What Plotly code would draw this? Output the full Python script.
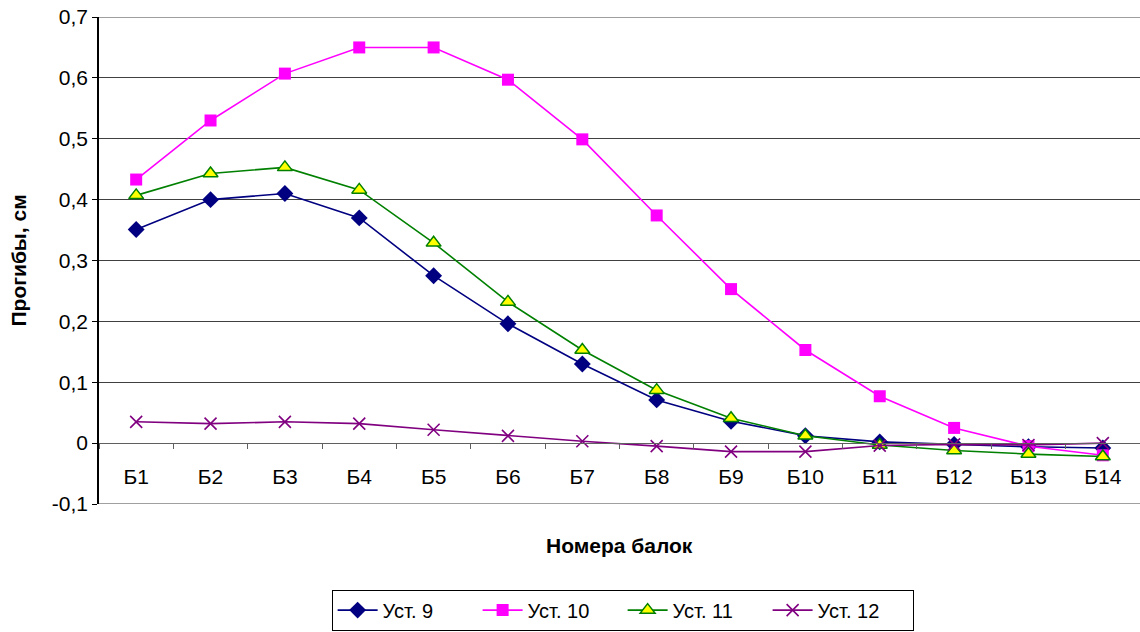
import plotly.graph_objects as go

categories = ["Б1", "Б2", "Б3", "Б4", "Б5", "Б6", "Б7", "Б8", "Б9", "Б10", "Б11", "Б12", "Б13", "Б14"]
ust9 = [0.351, 0.400, 0.410, 0.370, 0.275, 0.196, 0.130, 0.071, 0.036, 0.012, 0.002, -0.002, -0.006, -0.008]
ust10 = [0.433, 0.530, 0.607, 0.650, 0.650, 0.597, 0.499, 0.374, 0.253, 0.153, 0.077, 0.025, -0.005, -0.020]
ust11 = [0.407, 0.443, 0.453, 0.416, 0.329, 0.232, 0.153, 0.087, 0.041, 0.012, -0.003, -0.012, -0.018, -0.022]
ust12 = [0.035, 0.032, 0.035, 0.032, 0.022, 0.012, 0.003, -0.005, -0.014, -0.014, -0.004, -0.002, -0.003, 0.000]
series_names = ["Уст. 9", "Уст. 10", "Уст. 11", "Уст. 12"]
y_ticks = [-0.1, 0, 0.1, 0.2, 0.3, 0.4, 0.5, 0.6, 0.7]
y_tick_labels = ["-0,1", "0", "0,1", "0,2", "0,3", "0,4", "0,5", "0,6", "0,7"]
x_title = "Номера балок"
y_title = "Прогибы, см"

FONT = "Liberation Sans, Arial, sans-serif"
FS = 21

fig = go.Figure()
fig.add_trace(go.Scatter(x=categories, y=ust9, name=series_names[0], mode="lines+markers",
                         line=dict(color="#000080", width=1.6),
                         marker=dict(symbol="diamond", size=13, color="#000080")))
fig.add_trace(go.Scatter(x=categories, y=ust10, name=series_names[1], mode="lines+markers",
                         line=dict(color="#FF00FF", width=1.6),
                         marker=dict(symbol="square", size=12, color="#FF00FF")))
fig.add_trace(go.Scatter(x=categories, y=ust11, name=series_names[2], mode="lines+markers",
                         line=dict(color="#008000", width=1.6),
                         marker=dict(symbol="triangle-up", size=13, color="#FFFF00",
                                     line=dict(color="#008000", width=1.5))))
fig.add_trace(go.Scatter(x=categories, y=ust12, name=series_names[3], mode="lines+markers",
                         line=dict(color="#800080", width=1.6),
                         marker=dict(symbol="x-thin", size=12, color="#800080",
                                     line=dict(color="#800080", width=1.6))))

fig.update_layout(
    width=1140, height=632,
    margin=dict(l=99, r=0, t=17, b=128, autoexpand=False),
    plot_bgcolor="white", paper_bgcolor="white",
    font=dict(family=FONT, size=FS, color="black"),
    showlegend=True,
    legend=dict(orientation="h", x=0.503, xanchor="center", y=-0.260, yanchor="bottom",
                bordercolor="black", borderwidth=1, font=dict(size=20),
                itemwidth=40, tracegroupgap=0, entrywidth=90, entrywidthmode="pixels"),
    xaxis=dict(
        type="category", anchor="free", position=0.125,
        showline=True, linecolor="#606060", linewidth=1,
        ticks="outside", ticklen=5, tickcolor="#606060", tickson="boundaries",
        ticklabelstandoff=15,
        showgrid=False, zeroline=False,
        range=[-0.5, 13.5],
        tickfont=dict(size=FS),
    ),
    yaxis=dict(
        range=[-0.1, 0.7], tickvals=y_ticks, ticktext=y_tick_labels,
        showline=True, linecolor="black", linewidth=1.5,
        ticks="outside", ticklen=5, tickcolor="black",
        showgrid=True, gridcolor="#404040", gridwidth=1,
        zeroline=False,
        tickfont=dict(size=FS),
    ),
)
fig.add_shape(type="line", xref="paper", yref="y", x0=0, x1=1, y0=-0.1, y1=-0.1,
              line=dict(color="#404040", width=1))
fig.add_shape(type="line", xref="paper", yref="y", x0=0, x1=1, y0=0.7, y1=0.7,
              line=dict(color="#404040", width=1))
fig.add_annotation(text="<b>" + x_title + "</b>", xref="paper", yref="paper",
                   x=0.5, y=-0.0842, showarrow=False, font=dict(size=FS),
                   xanchor="center", yanchor="middle")
fig.add_annotation(text="<b>" + y_title + "</b>", xref="paper", yref="paper",
                   x=-0.0778, y=0.5, showarrow=False, font=dict(size=FS), textangle=-90,
                   xanchor="center", yanchor="middle")
fig.write_html("out.html", config={"displayModeBar": False},
               post_script="document.body.style.margin='0';")
